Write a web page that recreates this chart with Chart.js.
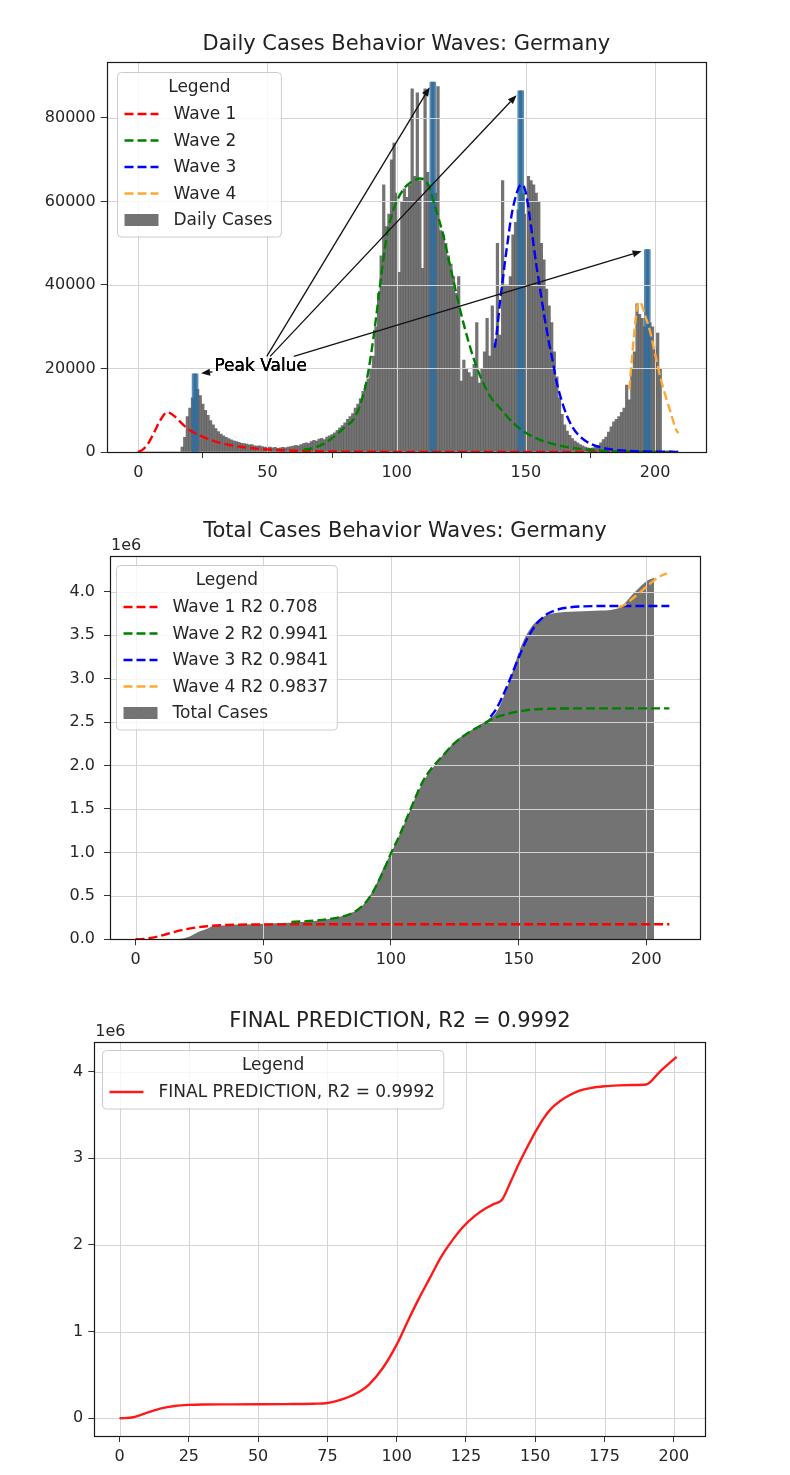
<!DOCTYPE html>
<html>
<head>
<meta charset="utf-8">
<script src="https://cdn.jsdelivr.net/npm/chart.js@4.4.0/dist/chart.umd.min.js"></script>
<style>
  html, body { margin: 0; padding: 0; background: #fff; }
  body { width: 790px; height: 1475px; position: relative; overflow: hidden; }
  canvas { position: absolute; left: 0; }
</style>
</head>
<body>
<canvas id="daily" width="790" height="490" style="top:0px"></canvas>
<canvas id="total" width="790" height="495" style="top:490px"></canvas>
<canvas id="final" width="790" height="490" style="top:985px"></canvas>
<script>
// ---- data ----

// daily cases, index = day number (0..202)
const dailyCases = [
  0, 0, 0, 0, 0, 0, 0, 0, 0, 0,
  0, 0, 0, 0, 0, 0, 0, 1200, 3500, 8500,
  10500, 13000, 18700, 15000, 13500, 11500, 10000, 8800, 7500, 6500,
  5600, 4900, 4300, 3900, 3500, 3200, 2900, 2700, 2500, 2300,
  2100, 2000, 1900, 1700, 1800, 1500, 1400, 1500, 1300, 1200,
  1100, 1200, 1000, 1100, 900, 1000, 1100, 1000, 1200, 1300,
  1400, 1600, 1500, 1800, 2000, 2200, 2100, 2500, 2800, 2600,
  3100, 3300, 3000, 3600, 3900, 4200, 4600, 5200, 5800, 6300,
  7000, 7800, 8500, 9200, 10500, 11500, 12800, 14500, 16000, 17500,
  20000, 23000, 30000, 38000, 47000, 64000, 54000, 57000, 70000, 74000,
  62000, 43000, 60000, 63000, 61000, 64000, 87000, 66000, 86000, 65000,
  44000, 87000, 67000, 64000, 88600, 62000, 87500, 53000, 52000, 50000,
  47000, 45000, 42000, 38000, 42000, 17000, 22000, 20000, 19000, 18000,
  21000, 31000, 16500, 20000, 24000, 32000, 23000, 35000, 26000, 50000,
  28000, 65000, 40000, 40000, 42000, 52000, 55000, 58000, 86500, 62000,
  57000, 66000, 65000, 64000, 62000, 60000, 50000, 46000, 39000, 35000,
  31000, 24000, 18000, 13000, 9000, 6500, 5000, 4000, 3200, 2600,
  2200, 1800, 1500, 1200, 1000, 900, 1000, 1300, 1600, 2200,
  3000, 3600, 4800, 6000, 7200, 7800, 8500, 9500, 10500, 16000,
  12500, 20000, 24000, 35500, 33000, 32000, 30000, 48500, 31000, 30000,
  25000, 28500, 20000
];
const peakDays = [22, 114, 148, 197];

// fitted daily waves
const wave1Days = [0, 2, 4, 6, 8, 10, 11, 12, 14, 16, 18, 20, 22, 24, 26, 28, 30, 33, 36, 40, 45, 50, 55, 60, 70, 80, 100, 130, 160, 209];
const wave1Daily = [0, 700, 2200, 4500, 7000, 9000, 9500, 9400, 8600, 7400, 6200, 5200, 4500, 3900, 3400, 2900, 2500, 2000, 1600, 1200, 850, 600, 420, 300, 160, 90, 30, 10, 3, 0];
const wave2Days = [64, 68, 72, 76, 80, 84, 88, 90, 92, 94, 96, 98, 100, 103, 106, 109, 112, 115, 118, 120, 122, 124, 126, 128, 130, 133, 136, 140, 145, 150, 155, 160, 165, 170, 180, 190, 200, 209];
const wave2Daily = [500, 1000, 2000, 3800, 6000, 8500, 16000, 23000, 32000, 42000, 51000, 56500, 60000, 63200, 64800, 65500, 64200, 58500, 52000, 46500, 41000, 35500, 30500, 26000, 22000, 17200, 13500, 10500, 7000, 4600, 3000, 2000, 1300, 800, 300, 100, 40, 15];
const wave3Days = [138, 139, 140, 141, 142, 143, 144, 145, 146, 147, 148, 149, 150, 151, 152, 153, 154, 155, 156, 157, 158, 159, 160, 162, 164, 166, 168, 170, 173, 176, 180, 185, 190, 195, 200, 209];
const wave3Daily = [25000, 30000, 36000, 41000, 46000, 50500, 55000, 58500, 61000, 63000, 64000, 63800, 62000, 58500, 54000, 49500, 45000, 41000, 37000, 33000, 29500, 26000, 23000, 16500, 12000, 8500, 6000, 4300, 2700, 1700, 950, 480, 250, 130, 70, 30];
const wave4Days = [190, 191, 192, 193, 194, 195, 196, 198, 200, 202, 204, 206, 208, 209];
const wave4Daily = [15000, 22000, 29000, 34500, 36000, 35000, 33000, 29000, 23500, 18000, 13500, 9500, 5500, 4500];

// total cases (millions)
const totalDays = [16, 18, 20, 22, 24, 26, 28, 30, 35, 40, 50, 60, 65, 70, 75, 80, 85, 88, 91, 94, 97, 100, 103, 106, 110, 114, 118, 122, 126, 130, 134, 138, 141, 144, 147, 150, 153, 156, 159, 162, 166, 170, 180, 188, 191, 194, 197, 200, 203];
const totalCases = [0, 0.005, 0.02, 0.045, 0.075, 0.1, 0.12, 0.15, 0.16, 0.17, 0.18, 0.19, 0.2, 0.21, 0.23, 0.26, 0.31, 0.36, 0.47, 0.62, 0.82, 0.99, 1.18, 1.38, 1.66, 1.88, 2.03, 2.18, 2.3, 2.38, 2.45, 2.53, 2.6, 2.78, 3.02, 3.3, 3.5, 3.63, 3.7, 3.74, 3.76, 3.77, 3.78, 3.8, 3.85, 3.95, 4.04, 4.12, 4.16];

// fitted cumulative waves (millions)
const wave1TotDays = [0, 3, 6, 9, 12, 15, 18, 21, 24, 27, 30, 35, 40, 50, 60, 80, 120, 160, 209];
const wave1Total = [0, 0.004, 0.016, 0.034, 0.058, 0.083, 0.105, 0.123, 0.137, 0.148, 0.156, 0.164, 0.168, 0.171, 0.172, 0.173, 0.173, 0.173, 0.173];
const wave2TotDays = [61, 65, 70, 75, 80, 84, 87, 90, 92, 94, 96, 98, 100, 102, 104, 106, 108, 110, 112, 114, 116, 118, 120, 122, 125, 128, 131, 134, 137, 140, 144, 148, 152, 156, 162, 170, 180, 195, 209];
const wave2Total = [0.2, 0.205, 0.215, 0.23, 0.255, 0.29, 0.34, 0.42, 0.5, 0.6, 0.72, 0.85, 0.99, 1.11, 1.24, 1.38, 1.52, 1.66, 1.79, 1.89, 1.97, 2.04, 2.1, 2.17, 2.26, 2.33, 2.39, 2.44, 2.49, 2.54, 2.58, 2.61, 2.63, 2.645, 2.652, 2.656, 2.657, 2.657, 2.657];
const wave3TotDays = [139, 141, 143, 145, 147, 149, 151, 153, 155, 157, 159, 161, 163, 166, 170, 175, 185, 200, 209];
const wave3Total = [2.56, 2.64, 2.75, 2.88, 3.02, 3.17, 3.31, 3.44, 3.54, 3.63, 3.69, 3.74, 3.77, 3.8, 3.82, 3.83, 3.835, 3.835, 3.835];
const wave4TotDays = [189, 191, 193, 195, 197, 199, 201, 203, 205, 208];
const wave4Total = [3.82, 3.84, 3.88, 3.93, 3.98, 4.03, 4.08, 4.13, 4.17, 4.21];

// final prediction (millions)
const finalDays = [0, 5, 10, 15, 20, 25, 30, 40, 50, 60, 70, 75, 80, 85, 90, 95, 100, 104, 108, 112, 116, 120, 124, 128, 132, 135, 138, 141, 144, 147, 150, 153, 156, 159, 162, 166, 170, 175, 180, 185, 190, 195, 201];
const finalPred = [0, 0.012, 0.065, 0.115, 0.142, 0.155, 0.16, 0.161, 0.162, 0.164, 0.168, 0.176, 0.215, 0.28, 0.39, 0.58, 0.85, 1.12, 1.38, 1.62, 1.86, 2.05, 2.21, 2.33, 2.42, 2.47, 2.52, 2.72, 2.93, 3.12, 3.3, 3.46, 3.58, 3.66, 3.72, 3.78, 3.81, 3.83, 3.84, 3.845, 3.85, 4.0, 4.17];

// tick values
const dayTicks = [0, 50, 100, 150, 200];
const finalDayTicks = [0, 25, 50, 75, 100, 125, 150, 175, 200];
const dailyTicks = [0, 20000, 40000, 60000, 80000];
const totalTicks = [0, 0.5, 1, 1.5, 2, 2.5, 3, 3.5, 4];
const finalTicks = [0, 1, 2, 3, 4];

// ---- styling ----
const FONT = "'DejaVu Sans', sans-serif";
Chart.defaults.font.family = FONT;
Chart.defaults.font.size = 16;
Chart.defaults.color = '#262626';

const GRAY = 'rgba(88,88,88,0.84)';
const GRID_COLOR = '#d4d4d4';
const DASH = [9, 4];

function pts(xs, ys) {
  return xs.map((x, i) => ({x: x, y: ys[i]}));
}

function waveLine(label, xs, ys, color, order) {
  return {
    type: 'line', label: label, data: pts(xs, ys),
    borderColor: color, borderWidth: 2.4, borderDash: DASH,
    pointRadius: 0, cubicInterpolationMode: 'monotone', fill: false, order: order
  };
}

function drawGrid(chart, color) {
  const {ctx, chartArea: a, scales} = chart;
  ctx.save();
  ctx.beginPath();
  ctx.rect(a.left, a.top, a.width, a.height);
  ctx.clip();
  ctx.strokeStyle = color;
  ctx.lineWidth = 1;
  ctx.beginPath();
  scales.x.ticks.forEach(t => {
    const px = Math.round(scales.x.getPixelForValue(t.value)) + 0.5;
    ctx.moveTo(px, a.top); ctx.lineTo(px, a.bottom);
  });
  scales.y.ticks.forEach(t => {
    const py = Math.round(scales.y.getPixelForValue(t.value)) + 0.5;
    ctx.moveTo(a.left, py); ctx.lineTo(a.right, py);
  });
  ctx.stroke();
  ctx.restore();
}

// grid over the bars, black frame round the plot
const axesFrame = {
  id: 'axesFrame',
  beforeDatasetsDraw(chart, args, o) {
    if (o.gridAfter == null) drawGrid(chart, GRID_COLOR);
  },
  afterDatasetDraw(chart, args, o) {
    if (args.index === o.gridAfter) drawGrid(chart, GRID_COLOR);
  },
  afterDatasetsDraw(chart) {
    const {ctx, chartArea: a} = chart;
    ctx.save();
    ctx.strokeStyle = '#1a1a1a';
    ctx.lineWidth = 1.2;
    ctx.strokeRect(Math.round(a.left) + 0.5, Math.round(a.top) + 0.5,
      Math.round(a.width), Math.round(a.height));
    ctx.restore();
  }
};

// matplotlib-like framed legend
const boxLegend = {
  id: 'boxLegend',
  afterDraw(chart, args, o) {
    const {ctx, chartArea: a} = chart;
    const items = o.order.map(i => chart.data.datasets[i]);
    ctx.save();
    ctx.font = '17px ' + FONT;
    const maxW = Math.max(...items.map(d => ctx.measureText(d.label).width));
    const x0 = Math.round(a.left + o.dx) + 0.5, y0 = Math.round(a.top + o.dy) + 0.5;
    const w = 56 + maxW + 9, h = 41.5 + (items.length - 1) * 26.5 + 17;
    ctx.beginPath();
    if (ctx.roundRect) ctx.roundRect(x0, y0, w, h, 4); else ctx.rect(x0, y0, w, h);
    ctx.fillStyle = 'rgba(255,255,255,0.8)';
    ctx.fill();
    ctx.strokeStyle = '#cccccc';
    ctx.lineWidth = 1;
    ctx.stroke();
    ctx.fillStyle = '#262626';
    ctx.textBaseline = 'middle';
    ctx.textAlign = 'center';
    ctx.fillText(o.title, x0 + w / 2, y0 + 15.5);
    ctx.textAlign = 'left';
    items.forEach((d, i) => {
      const y = y0 + 41.5 + i * 26.5;
      if (d.type === 'line' && !d.fill) {
        ctx.save();
        ctx.strokeStyle = d.borderColor;
        ctx.lineWidth = d.borderWidth;
        ctx.setLineDash(d.borderDash || []);
        ctx.beginPath();
        ctx.moveTo(x0 + 7, y); ctx.lineTo(x0 + 41, y);
        ctx.stroke();
        ctx.restore();
      } else {
        ctx.fillStyle = d.backgroundColor;
        ctx.fillRect(x0 + 7, y - 6, 34, 12);
      }
      ctx.fillStyle = '#262626';
      ctx.fillText(d.label, x0 + 56, y + 1);
    });
    ctx.restore();
  }
};

// "Peak Value" annotation with arrows to the peak bars
const peakArrows = {
  id: 'peakArrows',
  afterDatasetsDraw(chart, args, o) {
    const {ctx, scales: {x, y}} = chart;
    ctx.save();
    ctx.font = '17px ' + FONT;
    const tx = x.getPixelForValue(o.at.x), ty = y.getPixelForValue(o.at.y);
    const tw = ctx.measureText(o.text).width;
    const box = {l: tx - 2, r: tx + tw + 2, t: ty - 15, b: ty + 5};
    const cx = (box.l + box.r) / 2, cy = (box.t + box.b) / 2;
    ctx.strokeStyle = '#111';
    ctx.fillStyle = '#111';
    ctx.lineWidth = 1.3;
    o.days.forEach(d => {
      const px = x.getPixelForValue(d), py = y.getPixelForValue(o.values[d]);
      const len = Math.hypot(px - cx, py - cy);
      const ux = (px - cx) / len, uy = (py - cy) / len;
      const tX = ux > 0 ? (box.r - cx) / ux : ux < 0 ? (box.l - cx) / ux : Infinity;
      const tY = uy > 0 ? (box.b - cy) / uy : uy < 0 ? (box.t - cy) / uy : Infinity;
      const t0 = Math.min(tX, tY);
      const sx = cx + ux * t0, sy = cy + uy * t0;
      const ex = px - ux * o.shrink, ey = py - uy * o.shrink;
      const hl = 9, hw = 3.5;
      const bx = ex - ux * hl, by = ey - uy * hl;
      if (Math.hypot(ex - sx, ey - sy) > hl) {
        ctx.beginPath(); ctx.moveTo(sx, sy); ctx.lineTo(bx, by); ctx.stroke();
      }
      ctx.beginPath();
      ctx.moveTo(ex, ey);
      ctx.lineTo(bx - uy * hw, by + ux * hw);
      ctx.lineTo(bx + uy * hw, by - ux * hw);
      ctx.closePath();
      ctx.fill();
    });
    ctx.fillStyle = '#000';
    ctx.textAlign = 'left';
    ctx.textBaseline = 'alphabetic';
    for (let k = 0; k < 3; k++) ctx.fillText(o.text, tx, ty);
    ctx.restore();
  }
};

// "1e6" offset text above the y axis
const offsetLabel = {
  id: 'offsetLabel',
  afterDraw(chart, args, o) {
    if (!o.text) return;
    const {ctx, chartArea: a} = chart;
    ctx.save();
    ctx.font = '16px ' + FONT;
    ctx.fillStyle = '#262626';
    ctx.textAlign = 'left';
    ctx.textBaseline = 'alphabetic';
    ctx.fillText(o.text, a.left + 1, a.top - 6);
    ctx.restore();
  }
};

function axis(min, max, tickValues, size, fmt, horizontal, pad) {
  return {
    type: 'linear', min: min, max: max, offset: false,
    afterFit: s => { if (horizontal) s.height = size; else s.width = size; },
    afterBuildTicks: s => { s.ticks = tickValues.map(v => ({value: v})); },
    grid: { drawOnChartArea: false, drawTicks: true, tickLength: 6, tickColor: '#333', tickWidth: 1 },
    border: { display: false },
    ticks: { padding: pad || 5, color: '#262626', font: {size: 16}, callback: fmt }
  };
}

function title(text, top, bottom) {
  return { display: true, text: text, fullSize: false, color: '#222',
    font: {size: 21, weight: 'normal'}, padding: {top: top, bottom: bottom} };
}

const common = { responsive: false, animation: false, events: [] };

// ---- chart 1: daily cases ----
new Chart(document.getElementById('daily'), {
  type: 'bar',
  data: {
    datasets: [
      { label: 'Daily Cases', data: dailyCases.map((v, d) => ({x: d, y: v})),
        backgroundColor: GRAY, barPercentage: 1, categoryPercentage: 1, grouped: false, order: 6 },
      { label: 'Peaks', data: peakDays.map(d => ({x: d, y: dailyCases[d]})),
        backgroundColor: 'rgba(40,110,165,0.78)', barThickness: 6, grouped: false, order: 5 },
      waveLine('Wave 1', wave1Days, wave1Daily, '#ff0000', 4),
      waveLine('Wave 2', wave2Days, wave2Daily, '#008000', 3),
      waveLine('Wave 3', wave3Days, wave3Daily, '#0000ff', 2),
      waveLine('Wave 4', wave4Days, wave4Daily, '#ffa935', 1)
    ]
  },
  options: Object.assign({}, common, {
    layout: { padding: {left: 0, right: 84, top: 0, bottom: 0} },
    plugins: {
      legend: {display: false}, tooltip: {enabled: false},
      title: title('Daily Cases Behavior Waves: Germany', 32.4, 4.4),
      axesFrame: { gridAfter: 1 },
      boxLegend: { dx: 10, dy: 10, title: 'Legend', order: [2, 3, 4, 5, 0] },
      peakArrows: { text: 'Peak Value', at: {x: 29.5, y: 19300}, days: peakDays, values: dailyCases, shrink: 6 }
    },
    scales: {
      x: axis(-12.2, 219.7, dayTicks, 38, v => String(v), true),
      y: axis(0, 93400, dailyTicks, 106.7, v => String(v), false)
    }
  }),
  plugins: [axesFrame, peakArrows, boxLegend]
});

// ---- chart 2: total cases ----
new Chart(document.getElementById('total'), {
  type: 'line',
  data: {
    datasets: [
      { type: 'line', label: 'Total Cases', data: pts(totalDays, totalCases),
        borderWidth: 0, borderColor: 'rgba(0,0,0,0)', backgroundColor: GRAY, fill: 'origin',
        pointRadius: 0, cubicInterpolationMode: 'monotone', order: 10 },
      waveLine('Wave 1 R2 0.708', wave1TotDays, wave1Total, '#ff0000', 4),
      waveLine('Wave 2 R2 0.9941', wave2TotDays, wave2Total, '#008000', 3),
      waveLine('Wave 3 R2 0.9841', wave3TotDays, wave3Total, '#0000ff', 2),
      waveLine('Wave 4 R2 0.9837', wave4TotDays, wave4Total, '#ffa935', 1)
    ]
  },
  options: Object.assign({}, common, {
    layout: { padding: {left: 0, right: 90, top: 0, bottom: 0} },
    plugins: {
      legend: {display: false}, tooltip: {enabled: false},
      title: title('Total Cases Behavior Waves: Germany', 29.1, 11.7),
      axesFrame: { gridAfter: 0 },
      boxLegend: { dx: 6, dy: 9, title: 'Legend', order: [1, 2, 3, 4, 0] },
      offsetLabel: { text: '1e6' }
    },
    scales: {
      x: axis(-10, 221, dayTicks, 45.7, v => String(v), true),
      y: axis(0, 4.41, totalTicks, 110, v => v.toFixed(1), false, 9)
    }
  }),
  plugins: [axesFrame, boxLegend, offsetLabel]
});

// ---- chart 3: final prediction ----
new Chart(document.getElementById('final'), {
  type: 'line',
  data: {
    datasets: [
      { type: 'line', label: 'FINAL PREDICTION, R2 = 0.9992', data: pts(finalDays, finalPred),
        borderColor: '#ff1a1a', borderWidth: 2.4, pointRadius: 0, fill: false,
        cubicInterpolationMode: 'monotone' }
    ]
  },
  options: Object.assign({}, common, {
    layout: { padding: {left: 0, right: 84.3, top: 0, bottom: 0} },
    plugins: {
      legend: {display: false}, tooltip: {enabled: false},
      title: title('FINAL PREDICTION, R2 = 0.9992', 24.1, 7.4),
      axesFrame: {},
      boxLegend: { dx: 8, dy: 8, title: 'Legend', order: [0] },
      offsetLabel: { text: '1e6' }
    },
    scales: {
      x: axis(-9.1, 211.5, finalDayTicks, 39, v => String(v), true),
      y: axis(-0.204, 4.344, finalTicks, 94.3, v => String(v), false)
    }
  }),
  plugins: [axesFrame, boxLegend, offsetLabel]
});
</script>
</body>
</html>
